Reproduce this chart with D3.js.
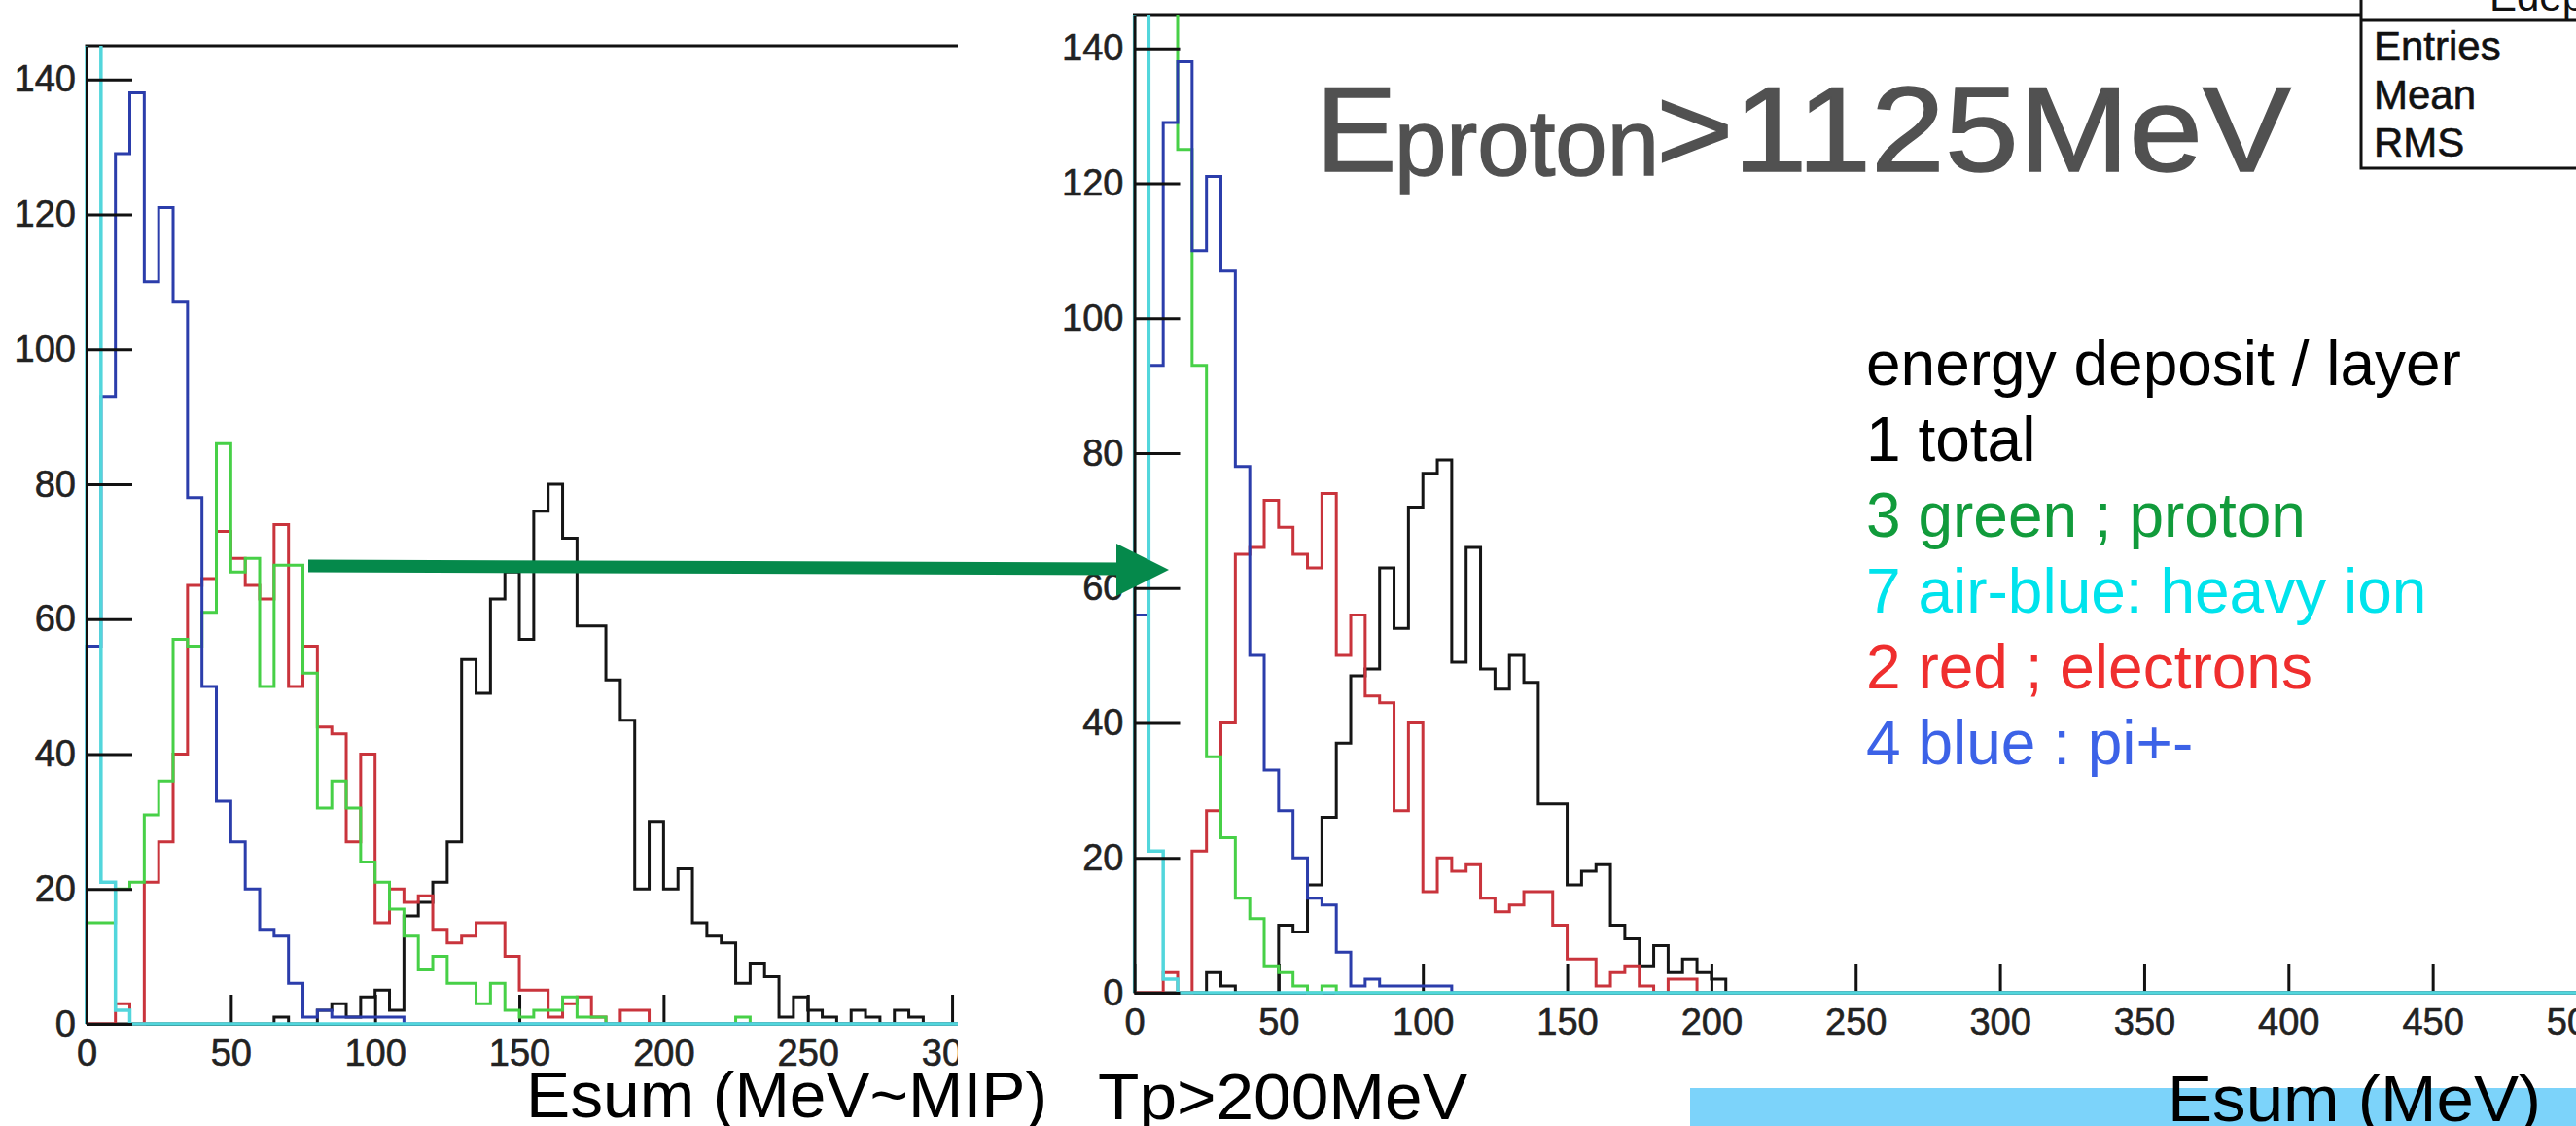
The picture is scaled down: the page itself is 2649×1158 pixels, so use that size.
<!DOCTYPE html>
<html>
<head>
<meta charset="utf-8">
<script src="https://cdn.jsdelivr.net/npm/d3@7"></script>
<style>
  html, body { margin: 0; padding: 0; background: #fff; overflow: hidden; }
  svg { display: block; }
</style>
</head>
<body>
<svg id="chart" width="2649" height="1158"></svg>
<script>
// all histograms use 5 MeV bins starting at 0
var binWidth = 5;

// e / pi / heavy ion are the same in both panels
var blueCounts = [56, 93, 129, 138, 110, 121, 107, 78, 50, 33, 27, 20, 14, 13, 6, 1, 2, 1, 1, 1, 1, 1];
var redCounts  = [0, 0, 3, 0, 21, 27, 40, 65, 66, 73, 69, 65, 63, 74, 50, 56, 44, 43, 27, 40,
                  15, 20, 18, 19, 14, 12, 13, 15, 15, 10, 5, 5, 1, 3, 4, 1, 0, 2, 2];
var cyanCounts = [160, 21, 2];   // first bin is off the top of the frame

// left: Tp>200MeV
var leftGreen = [15, 15, 20, 21, 31, 36, 57, 56, 61, 86, 67, 69, 50, 68, 68, 52, 32, 36, 32, 24,
                 21, 17, 13, 8, 10, 6, 6, 3, 6, 2, 1, 2, 2, 4, 1, 1, 0, 0, 0, 0,
                 0, 0, 0, 0, 0, 1];
var leftBlack = [0, 0, 0, 0, 0, 0, 0, 0, 0, 0, 0, 0, 0, 1, 0, 0, 2, 3, 1, 4,
                 5, 2, 16, 18, 21, 27, 54, 49, 63, 67, 57, 76, 80, 72, 59, 59, 51, 45, 20, 30,
                 20, 23, 15, 13, 12, 6, 9, 7, 1, 4, 2, 1, 0, 2, 1, 0, 2, 1];

// right: Eproton>1125MeV
var rightGreen = [160, 160, 160, 125, 93, 35, 23, 14, 11, 4, 3, 1, 0, 1];
var rightBlack = [0, 0, 0, 0, 0, 3, 1, 0, 0, 0, 10, 9, 16, 26, 37, 47, 48, 63, 54, 72,
                  77, 79, 49, 66, 48, 45, 50, 46, 28, 28, 16, 18, 19, 10, 8, 4, 7, 3, 5, 3, 2];

var yMajor = [0, 20, 40, 60, 80, 100, 120, 140];
var leftXTicks = [0, 50, 100, 150, 200, 250, 300];
var rightXTicks = [0, 50, 100, 150, 200, 250, 300, 350, 400, 450, 500];

var legendText = ["energy deposit / layer", "1 total", "3 green ; proton",
                  "7 air-blue: heavy ion", "2 red ; electrons", "4 blue : pi+-"];
var statsRows = ["Entries", "Mean", "RMS"];

var FONT = "'Liberation Sans', Arial, Helvetica, sans-serif";
var col = { black: "#151515", red: "#c9343c", green: "#47d047", blue: "#2b3dab", cyan: "#52d6dc" };
var legendColor = ["#000", "#000", "#119b3b", "#00e3ec", "#ef2e2e", "#3c62e7"];

var svg = d3.select("#chart");
svg.append("rect").attr("width", 2649).attr("height", 1158).attr("fill", "#fff");
var defs = svg.append("defs");

function steps(counts, xMax) {
  var pts = [[0, 0]];
  counts.forEach(function(c, i) { pts.push([i * binWidth, c]); });
  pts.push([counts.length * binWidth, 0]);
  pts.push([xMax, 0]);
  return pts;
}

function drawPanel(p) {
  var root = svg.append("g");
  if (p.cutAt) {
    defs.append("clipPath").attr("id", p.id + "-cut")
      .append("rect").attr("x", 0).attr("y", 0).attr("width", p.cutAt).attr("height", 1158);
    root.attr("clip-path", "url(#" + p.id + "-cut)");
  }

  var x = d3.scaleLinear().domain([0, p.xMax]).range([p.left, p.right]);
  var y = d3.scaleLinear().domain([0, 145]).range([p.bottom, p.top]);

  // x axis, under the histograms (ticks point up into the frame)
  var xa = root.append("g").attr("transform", "translate(0," + p.bottom + ")");
  xa.call(d3.axisBottom(x).tickValues(d3.range(0, p.xMax + 0.01, 10))
      .tickSizeInner(-15).tickSizeOuter(0).tickFormat(""));
  xa.call(d3.axisBottom(x).tickValues(p.xTicks)
      .tickSizeInner(-30).tickSizeOuter(0).tickPadding(16));
  xa.selectAll("path.domain").attr("stroke", "#111").attr("stroke-width", 3);
  xa.selectAll(".tick line").attr("stroke", "#111").attr("stroke-width", 3);
  xa.selectAll("text").attr("font-family", FONT).attr("font-size", 38)
    .attr("fill", "#222").attr("stroke", "#222").attr("stroke-width", 0.6);

  // top edge of the frame
  root.append("line")
    .attr("x1", p.left - 1.5).attr("x2", p.frameRight)
    .attr("y1", p.top).attr("y2", p.top)
    .attr("stroke", "#111").attr("stroke-width", 3);

  defs.append("clipPath").attr("id", p.id + "-plot")
    .append("rect").attr("x", p.left - 2).attr("y", p.top)
    .attr("width", p.right - p.left + 4).attr("height", p.bottom - p.top + 6);
  var plot = root.append("g").attr("clip-path", "url(#" + p.id + "-plot)");

  var line = d3.line()
    .x(function(d) { return x(d[0]); })
    .y(function(d) { return y(d[1]); })
    .curve(d3.curveStepAfter);

  p.series.forEach(function(s) {
    plot.append("path")
      .attr("d", line(steps(s.counts, p.xMax)))
      .attr("fill", "none")
      .attr("stroke", col[s.color])
      .attr("stroke-width", s.color === "cyan" ? 3.5 : 3)
      .attr("stroke-linejoin", "miter");
  });

  // y axis drawn last, ticks inside the frame
  var ya = root.append("g").attr("transform", "translate(" + p.left + ",0)");
  ya.call(d3.axisLeft(y).tickValues(d3.range(5, 145, 5))
      .tickSizeInner(-22).tickSizeOuter(0).tickFormat(""));
  ya.select("path.domain").remove();
  ya.call(d3.axisLeft(y).tickValues(yMajor)
      .tickSizeInner(-47).tickSizeOuter(0).tickPadding(11));
  ya.selectAll("path.domain").attr("stroke", "#111").attr("stroke-width", 3);
  ya.selectAll(".tick line").attr("stroke", "#111").attr("stroke-width", 3);
  ya.selectAll("text").attr("font-family", FONT).attr("font-size", 38)
    .attr("fill", "#222").attr("stroke", "#222").attr("stroke-width", 0.6);
}

drawPanel({
  id: "left", left: 89, right: 985, xMax: 302, top: 47, bottom: 1053,
  frameRight: 985, cutAt: 985, xTicks: leftXTicks,
  series: [
    { counts: leftBlack, color: "black" },
    { counts: redCounts, color: "red" },
    { counts: leftGreen, color: "green" },
    { counts: blueCounts, color: "blue" },
    { counts: cyanCounts, color: "cyan" }
  ]
});

drawPanel({
  id: "right", left: 1166.5, right: 2650, xMax: 500, top: 15, bottom: 1021,
  frameRight: 2428, xTicks: rightXTicks,
  series: [
    { counts: rightBlack, color: "black" },
    { counts: redCounts, color: "red" },
    { counts: rightGreen, color: "green" },
    { counts: blueCounts, color: "blue" },
    { counts: cyanCounts, color: "cyan" }
  ]
});

// stats box, cut by the top and right edges of the picture
var stats = svg.append("g");
stats.append("path")
  .attr("d", "M2428,-5V173H2660M2428,21H2660")
  .attr("fill", "none").attr("stroke", "#111").attr("stroke-width", 3);
stats.append("text").attr("x", 2560).attr("y", 11).text("Edep")
  .attr("font-family", FONT).attr("font-size", 42).attr("fill", "#111");
stats.selectAll("text.row").data(statsRows).enter().append("text")
  .attr("class", "row")
  .attr("x", 2441)
  .attr("y", function(d, i) { return 62 + i * 49.5; })
  .attr("font-family", FONT).attr("font-size", 42).attr("fill", "#111")
  .attr("stroke", "#111").attr("stroke-width", 0.6)
  .text(function(d) { return d; });

// big title
var title = svg.append("g").attr("fill", "#515151").attr("stroke", "#515151")
  .attr("stroke-width", 1.5).attr("font-family", FONT);
title.append("text").attr("x", 1353).attr("y", 176).attr("font-size", 125).text("E");
title.append("text").attr("x", 1434).attr("y", 180).attr("font-size", 96)
  .attr("textLength", 272).attr("lengthAdjust", "spacingAndGlyphs").text("proton");
title.append("text").attr("x", 1703).attr("y", 176).attr("font-size", 125)
  .attr("textLength", 653).attr("lengthAdjust", "spacingAndGlyphs").text(">1125MeV");

// legend
svg.append("g").selectAll("text").data(legendText).enter().append("text")
  .attr("x", 1919)
  .attr("y", function(d, i) { return 396 + i * 78; })
  .attr("font-family", FONT).attr("font-size", 64)
  .attr("fill", function(d, i) { return legendColor[i]; })
  .text(function(d) { return d; });

// arrow from the left panel to the right one
svg.append("line")
  .attr("x1", 317).attr("y1", 582).attr("x2", 1156).attr("y2", 585)
  .attr("stroke", "#05894b").attr("stroke-width", 13);
svg.append("path")
  .attr("d", "M1148,559L1202,586L1148,613Z")
  .attr("fill", "#05894b");

// bottom captions
svg.append("rect").attr("x", 1738).attr("y", 1119).attr("width", 920).attr("height", 45)
  .attr("fill", "#7cd3fa");
var cap = svg.append("g").attr("font-family", FONT).attr("font-size", 67).attr("fill", "#000");
cap.append("text").attr("x", 541).attr("y", 1149)
  .attr("textLength", 536).attr("lengthAdjust", "spacingAndGlyphs").text("Esum (MeV~MIP)");
cap.append("text").attr("x", 1129).attr("y", 1151)
  .attr("textLength", 380).attr("lengthAdjust", "spacingAndGlyphs").text("Tp>200MeV");
cap.append("text").attr("x", 2229).attr("y", 1153)
  .attr("textLength", 384).attr("lengthAdjust", "spacingAndGlyphs").text("Esum (MeV)");
</script>
</body>
</html>
